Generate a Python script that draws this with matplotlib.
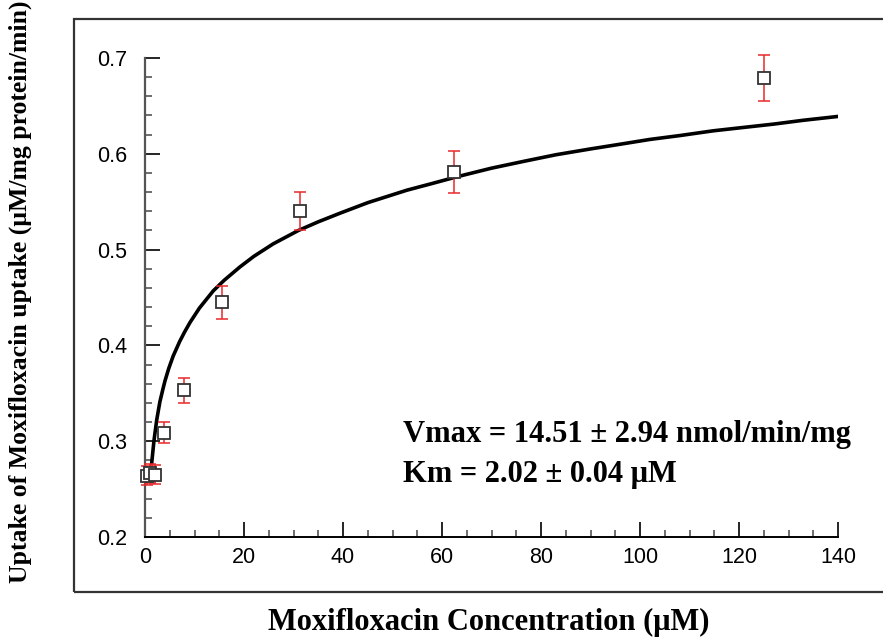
import numpy as np
import matplotlib
matplotlib.use("Agg")
import matplotlib.pyplot as plt
from matplotlib.patches import Rectangle
from matplotlib.ticker import MultipleLocator

# measured uptake (mean ± SD)
conc = [0.49, 0.98, 1.95, 3.9, 7.8, 15.6, 31.25, 62.5, 125]
uptake = [0.264, 0.2665, 0.265, 0.309, 0.353, 0.445, 0.540, 0.581, 0.679]
uptake_err = [0.010, 0.010, 0.010, 0.011, 0.013, 0.017, 0.020, 0.022, 0.024]

# fitted kinetic curve
fit_x = [1.35, 1.8, 2.36, 3.0, 3.6, 4.04, 4.8, 5.7, 7.0, 8.0, 9.1, 11.0,
         13.8, 16.0, 19.2, 22.0, 25.9, 31.0, 35.0, 39.4, 45.0, 52.9, 58.0,
         63.0, 70.0, 76.4, 83.0, 89.9, 96.0, 102.0, 108.0, 114.8, 120.0,
         127.0, 133.0, 140.0]
fit_y = [0.277, 0.300, 0.322, 0.341, 0.354, 0.363, 0.376, 0.389, 0.404,
         0.414, 0.424, 0.439, 0.457, 0.468, 0.482, 0.493, 0.506, 0.520,
         0.529, 0.538, 0.549, 0.562, 0.569, 0.576, 0.585, 0.592, 0.599,
         0.605, 0.610, 0.615, 0.619, 0.624, 0.627, 0.631, 0.635, 0.639]

x_ticks = [0, 20, 40, 60, 80, 100, 120, 140]
y_ticks = [0.2, 0.3, 0.4, 0.5, 0.6, 0.7]

serif = ["Liberation Serif", "DejaVu Serif"]
sans = ["Liberation Sans", "DejaVu Sans"]

fig = plt.figure(figsize=(8.83, 6.40), dpi=100)
ax = fig.add_axes([145 / 883, 1 - 537 / 640, (838 - 145) / 883, (537 - 58) / 640])

# outer frame
fig.patches.append(Rectangle((74 / 883, 1 - 592 / 640), 1.0, (592 - 19) / 640,
                             transform=fig.transFigure, fill=False,
                             edgecolor="#333333", linewidth=1.6, clip_on=False))

ax.plot(fit_x, fit_y, color="black", lw=2.6, solid_capstyle="round",
        solid_joinstyle="round", zorder=2)
ax.errorbar(conc, uptake, yerr=uptake_err, fmt="none", ecolor="#e8282b",
            elinewidth=1.1, capsize=4, capthick=1.1, zorder=3, clip_on=False)
ax.plot(conc, uptake, "s", ms=8.5, mfc="white", mec="#333333", mew=1.3,
        zorder=4, clip_on=False)

ax.set_xlim(0, 140)
ax.set_ylim(0.2, 0.7)
ax.set_xticks(x_ticks)
ax.set_yticks(y_ticks)
ax.set_xticklabels([str(v) for v in x_ticks], family=sans, fontsize=15.5)
ax.set_yticklabels([f"{v:.1f}" for v in y_ticks], family=sans, fontsize=15.5)
ax.xaxis.set_minor_locator(MultipleLocator(5))
ax.yaxis.set_minor_locator(MultipleLocator(0.02))
ax.tick_params(which="major", direction="in", length=11, width=1.2,
               color="black")
ax.tick_params(which="minor", direction="in", length=5, width=1.2,
               color="#555555")
ax.tick_params(axis="y", which="major", pad=13)
ax.tick_params(axis="x", which="major", pad=7)

for s in ("top", "right"):
    ax.spines[s].set_visible(False)
ax.spines["left"].set_color("#555555")
ax.spines["left"].set_linewidth(1.6)
ax.spines["bottom"].set_color("black")
ax.spines["bottom"].set_linewidth(1.4)

ax.text(52.1, 0.3065, "Vmax = 14.51 ± 2.94 nmol/min/mg", family=serif,
        fontweight="bold", fontsize=22, va="center", ha="left")
ax.text(52.1, 0.265, "Km = 2.02 ± 0.04 μM", family=serif,
        fontweight="bold", fontsize=22, va="center", ha="left")

fig.text(489 / 883, 1 - 622 / 640, "Moxifloxacin Concentration (μM)",
         family=serif, fontweight="bold", fontsize=22, ha="center",
         va="center")
fig.text(20 / 883, 1 - 292 / 640,
         "Uptake of Moxifloxacin uptake (μM/mg protein/min)",
         family=serif, fontweight="bold", fontsize=18.5, ha="center",
         va="center", rotation=90)

fig.savefig("out.png", dpi=100)
